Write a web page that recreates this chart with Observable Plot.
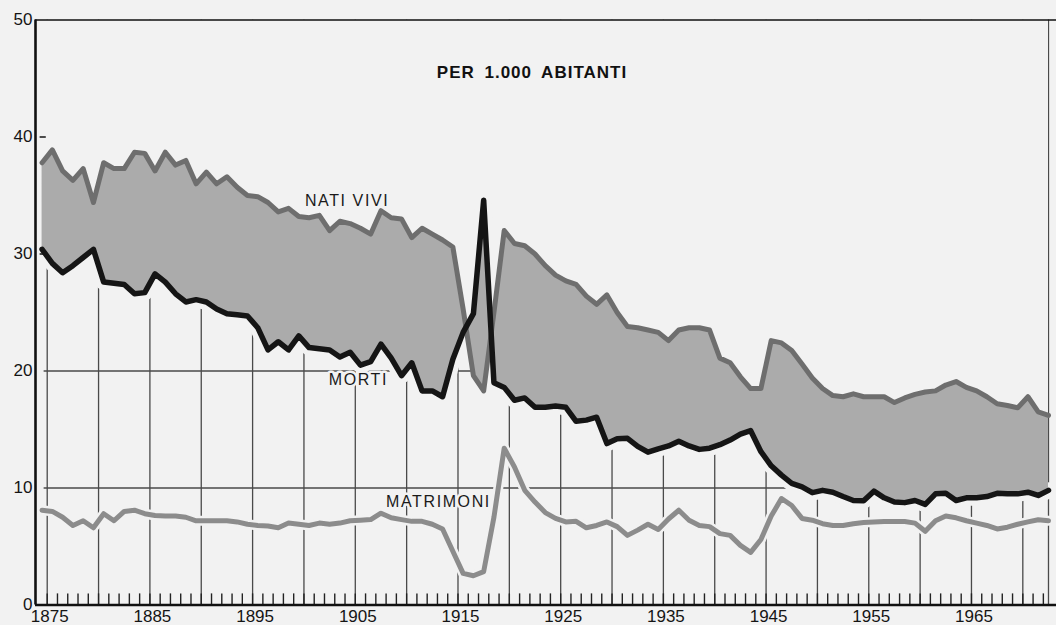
<!DOCTYPE html>
<html>
<head>
<meta charset="utf-8">
<script src="https://cdn.jsdelivr.net/npm/d3@7"></script>
<script src="https://cdn.jsdelivr.net/npm/@observablehq/plot@0.6"></script>
<style>
  html, body { margin: 0; padding: 0; background: #f2f2f2; overflow: hidden; }
  #chart svg { display: block; }
</style>
</head>
<body>
<div id="chart"></div>
<script>
// ---- Data (per 1.000 abitanti) ----
const years = [
  1875,1876,1877,1878,1879,1880,1881,1882,1883,1884,
  1885,1886,1887,1888,1889,1890,1891,1892,1893,1894,
  1895,1896,1897,1898,1899,1900,1901,1902,1903,1904,
  1905,1906,1907,1908,1909,1910,1911,1912,1913,1914,
  1915,1916,1917,1918,1919,1920,1921,1922,1923,1924,
  1925,1926,1927,1928,1929,1930,1931,1932,1933,1934,
  1935,1936,1937,1938,1939,1940,1941,1942,1943,1944,
  1945,1946,1947,1948,1949,1950,1951,1952,1953,1954,
  1955,1956,1957,1958,1959,1960,1961,1962,1963,1964,
  1965,1966,1967,1968,1969,1970,1971,1972,1973
];
const natiVivi = [
  37.8,38.9,37.1,36.3,37.3,34.4,37.8,37.3,37.3,38.7,
  38.6,37.1,38.7,37.6,38.0,36.0,37.0,36.0,36.6,35.7,
  35.0,34.9,34.4,33.6,33.9,33.2,33.1,33.3,32.0,32.8,
  32.6,32.2,31.7,33.7,33.1,33.0,31.4,32.2,31.7,31.2,
  30.6,25.3,19.6,18.3,25.0,32.0,30.9,30.7,30.0,29.0,
  28.2,27.7,27.4,26.4,25.7,26.5,25.0,23.8,23.7,23.5,
  23.3,22.6,23.5,23.7,23.7,23.5,21.1,20.7,19.5,18.5,
  18.5,22.6,22.4,21.75,20.6,19.4,18.5,17.9,17.8,18.05,
  17.8,17.8,17.8,17.3,17.7,18.0,18.2,18.3,18.8,19.1,
  18.6,18.3,17.8,17.2,17.05,16.85,17.8,16.5,16.2
];
const morti = [
  30.4,29.2,28.4,29.0,29.7,30.4,27.6,27.5,27.4,26.6,
  26.7,28.3,27.6,26.6,25.9,26.1,25.9,25.3,24.9,24.8,
  24.7,23.7,21.8,22.5,21.8,23.0,22.0,21.9,21.8,21.2,
  21.6,20.5,20.8,22.3,21.1,19.6,20.7,18.3,18.3,17.8,
  21.0,23.3,24.9,34.6,19.0,18.6,17.5,17.7,16.9,16.9,
  17.0,16.9,15.7,15.8,16.05,13.8,14.2,14.25,13.55,13.06,
  13.35,13.6,14.0,13.6,13.3,13.4,13.7,14.1,14.6,14.9,
  13.1,11.9,11.1,10.4,10.1,9.6,9.8,9.64,9.27,8.93,
  8.9,9.73,9.16,8.8,8.75,8.93,8.6,9.5,9.55,8.93,
  9.16,9.16,9.27,9.55,9.5,9.5,9.64,9.36,9.8
];
const matrimoni = [
  8.1,8.0,7.5,6.8,7.2,6.6,7.8,7.2,8.0,8.1,
  7.8,7.65,7.6,7.6,7.5,7.2,7.2,7.2,7.2,7.1,
  6.9,6.8,6.75,6.6,7.0,6.9,6.8,7.0,6.9,7.0,
  7.2,7.25,7.3,7.85,7.45,7.3,7.15,7.15,6.9,6.5,
  4.6,2.7,2.5,2.85,7.5,13.4,11.8,9.8,8.8,7.9,
  7.4,7.1,7.15,6.6,6.8,7.1,6.7,5.95,6.4,6.9,
  6.45,7.35,8.1,7.25,6.8,6.7,6.1,5.95,5.1,4.5,
  5.6,7.6,9.1,8.5,7.4,7.25,6.95,6.8,6.8,6.95,
  7.05,7.1,7.13,7.13,7.13,7.0,6.3,7.2,7.6,7.45,
  7.2,7.0,6.8,6.5,6.65,6.9,7.1,7.28,7.2
];
const gridYears = [1875,1880,1885,1890,1895,1900,1905,1910,1915,1920,1925,1930,1935,1940,1945,1950,1955,1960,1965,1970];
const xTickLabels = [1875,1885,1895,1905,1915,1925,1935,1945,1955,1965];
const yTicks = [0,10,20,30,40,50];
const innerTicks = [30,40];
const hGrid = [10,20];
const titleText = "PER 1.000 ABITANTI";
const seriesLabels = [
  {label: "NATI VIVI", year: 1904.2, value: 34.5},
  {label: "MORTI", year: 1905.3, value: 19.2},
  {label: "MATRIMONI", year: 1913.1, value: 8.8}
];

// ---- Table ----
const data = years.map((year, i) => ({
  pos: year - 0.5, year,
  nati: natiVivi[i], morti: morti[i], matr: matrimoni[i]
}));
const first = data[0].pos, last = data[data.length - 1].pos;

const bg = "#f2f2f2";
const gridColor = "#4a4a4a";
const xDomain = [1873.86, 1973.28];

const chart = Plot.plot({
  width: 1056,
  height: 625,
  marginLeft: 35,
  marginRight: 0,
  marginTop: 19.5,
  marginBottom: 20.5,
  style: {background: bg, fontFamily: "'Liberation Sans', Arial, Helvetica, sans-serif", color: "#151515"},
  x: {domain: xDomain},
  y: {domain: [0, 50]},
  marks: [
    // gridlines
    Plot.ruleX(gridYears.concat([last]), {x: d => d, y1: 0, y2: 50, stroke: gridColor, strokeWidth: 1.3}),
    Plot.ruleY(hGrid, {y: d => d, x1: first + 0.2, x2: last, stroke: gridColor, strokeWidth: 1.3}),
    // cover everything above the death line
    Plot.areaY(data, {x: "pos", y1: "morti", y2: 50, fill: bg}),
    // white gap under the death line
    Plot.line(data, {x: "pos", y: "morti", stroke: bg, strokeWidth: 16}),
    // natural increase area
    Plot.areaY(data, {x: "pos", y1: "morti", y2: "nati", fill: "#ababab"}),
    // gap around marriages
    Plot.line(data, {x: "pos", y: "matr", stroke: bg, strokeWidth: 10}),
    // minor yearly ticks
    Plot.ruleX(years.filter(y => y < 1973), {x: d => d, y1: 0, y2: 0.95, stroke: "#222", strokeWidth: 1.4}),
    // small inner ticks on the y axis
    Plot.ruleY(innerTicks, {y: d => d, x1: xDomain[0] + 0.45, x2: xDomain[0] + 1.05, stroke: "#222", strokeWidth: 1.6}),
    // series lines
    Plot.line(data, {x: "pos", y: "nati", stroke: "#6e6e6e", strokeWidth: 5, strokeLinejoin: "round"}),
    Plot.line(data, {x: "pos", y: "matr", stroke: "#8c8c8c", strokeWidth: 5, strokeLinejoin: "round"}),
    Plot.line(data, {x: "pos", y: "morti", stroke: "#151515", strokeWidth: 5.5, strokeLinejoin: "round"}),
    // labels
    Plot.text(seriesLabels, {x: "year", y: "value", text: "label", fontSize: 16, fill: "#1a1a1a",
      stroke: bg, strokeWidth: 5}),
    Plot.text([titleText], {frameAnchor: "top", dx: -14, dy: 46, text: d => d, fontSize: 17, fontWeight: "bold",
      fill: "#111"}),
    // frame lines
    Plot.ruleY([50], {stroke: "#111", strokeWidth: 1.6}),
    Plot.ruleY([0], {stroke: "#111", strokeWidth: 2.6}),
    Plot.ruleX([xDomain[0]], {stroke: "#111", strokeWidth: 2.6}),
    // axes
    Plot.axisY(yTicks, {tickSize: 0, tickPadding: 3, fontSize: 17, fill: "#151515", label: null}),
    Plot.axisX(xTickLabels, {tickSize: 0, tickPadding: 5, fontSize: 17, fill: "#151515", dx: 2.5,
      tickFormat: d => String(d), label: null})
  ]
});

const labelNames = seriesLabels.map(d => d.label);
d3.select(chart).selectAll("text").each(function () {
  const t = this.textContent;
  if (labelNames.includes(t)) {
    d3.select(this).attr("font-size", 16).attr("letter-spacing", "1.6px");
  } else if (t === titleText) {
    d3.select(this).attr("font-size", 17).attr("letter-spacing", "1px").attr("word-spacing", "4px");
  }
});

document.getElementById("chart").appendChild(chart);
</script>
</body>
</html>
